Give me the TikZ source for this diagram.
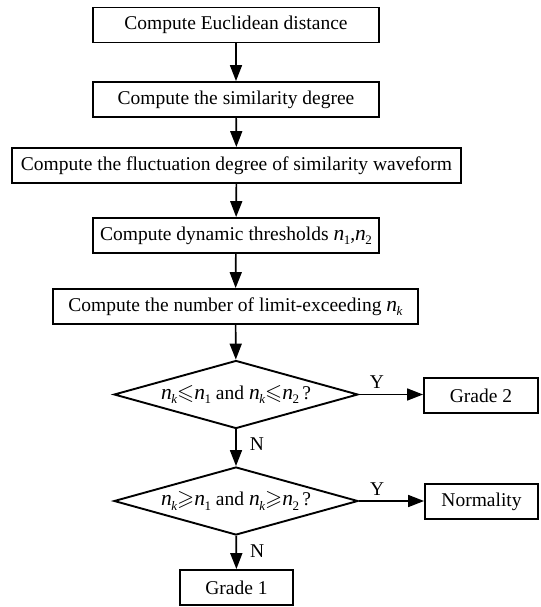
\documentclass[tikz,border=0pt]{standalone}
\usepackage{amssymb}
\usepackage{fontspec}
\setmainfont{Liberation Serif}
\usetikzlibrary{arrows.meta,shapes.geometric}
\newcommand\nsub[1]{{\fontsize{21.5bp}{21bp}\selectfont\textit{n}}\kern-0.5bp\raisebox{-0.22em}{\fontsize{13bp}{13bp}\selectfont #1}}
\newcommand\rel[1]{{\fontsize{22bp}{22bp}\selectfont$#1$}}
\begin{document}
\begin{tikzpicture}[x=1bp,y=-1bp,
  every node/.style={font=\fontsize{19.5bp}{23bp}\selectfont},
  procbox/.style={draw, line width=1.9bp, inner sep=0pt, minimum height=35bp},
  decbox/.style={draw, line width=1.9bp, shape=diamond, inner sep=0pt, aspect=3.6,
    minimum width=244bp, minimum height=68bp},
  flow/.style={line width=1.7bp, -{Triangle[length=16bp,width=12bp]}},
  lbl/.style={inner sep=0pt}]
\useasboundingbox (0,0) rectangle (541,607);
\node[procbox, minimum width=286bp] (b1) at (236,25) {Compute Euclidean distance};
\node[procbox, minimum width=286bp] (b2) at (236,99.5) {Compute the similarity degree};
\node[procbox, minimum width=449bp] (b3) at (236.5,165.5) {Compute the fluctuation degree of similarity waveform};
\node[procbox, minimum width=286bp] (b4) at (236,235.5) {Compute dynamic thresholds \nsub{1},\nsub{2}};
\node[procbox, minimum width=365bp] (b5) at (235.5,306.5) {Compute the number of limit-exceeding \nsub{\textit{k}}};
\node[decbox] (d1) at (236,394.5) {\nsub{\textit{k}}\rel{\leqslant}\nsub{1} and \nsub{\textit{k}}\rel{\leqslant}\nsub{2}\,?};
\node[decbox] (d2) at (236,501) {\nsub{\textit{k}}\rel{\geqslant}\nsub{1} and \nsub{\textit{k}}\rel{\geqslant}\nsub{2}\,?};
\node[procbox, minimum width=113bp] (g1) at (236.5,587.5) {Grade 1};
\node[procbox, minimum width=114bp] (g2) at (481,395.5) {Grade 2};
\node[procbox, minimum width=113bp] (nm) at (481.5,501.5) {Normality};
\draw[flow] (b1) -- (b2);
\draw[flow] (b2) -- (b3);
\draw[flow] (b3) -- (b4);
\draw[flow] (b4) -- (b5);
\draw[flow] (b5) -- (d1);
\draw[flow] (d1) -- node[lbl, right=13bp, pos=0.4] (n1) {N} (d2);
\draw[flow] (d2) -- node[lbl, right=13bp, pos=0.45] (n2) {N} (g1);
\draw[flow] (d1.east) -- node[lbl, above=5bp, pos=0.28] (y1) {Y} (d1.east -| g2.west);
\draw[flow] (d2.east) -- node[lbl, above=5bp, pos=0.28] (y2) {Y} (d2.east -| nm.west);
\end{tikzpicture}
\end{document}
